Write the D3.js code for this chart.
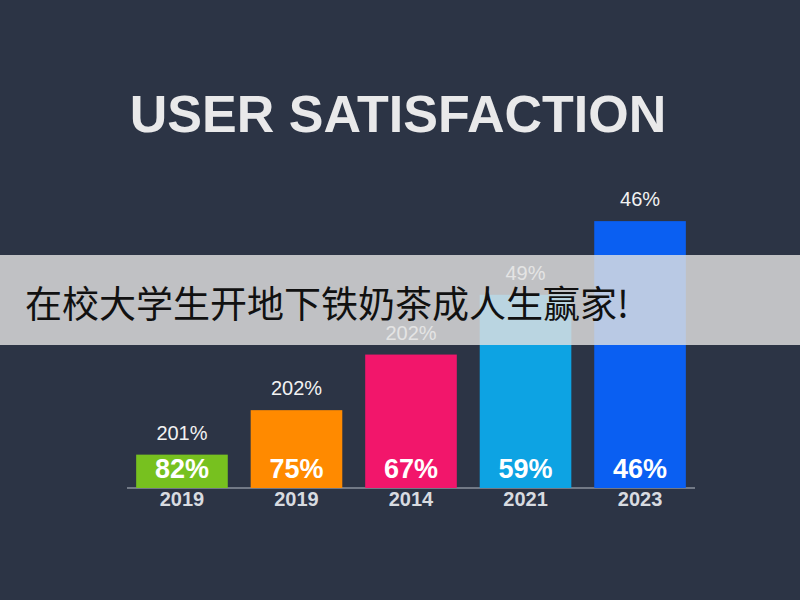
<!DOCTYPE html>
<html><head><meta charset="utf-8">
<script src="https://cdn.jsdelivr.net/npm/d3@7"></script>
<style>body{margin:0;background:#2c3445;}</style>
</head><body>
<svg id="c" width="800" height="600"></svg>
<script>
const categories = ["2019","2019","2014","2021","2023"];
const barHeights = [12, 28, 48, 69.5, 96];
const insideLabels = ["82%","75%","67%","59%","46%"];
const topLabels = ["201%","202%","202%","49%","46%"];
const colors = ["#77c11f","#ff8a00","#f2166b","#0da3e3","#0a5ff2"];

const svg = d3.select("#c");
svg.append("rect").attr("width",800).attr("height",600).attr("fill","#2c3445");
svg.append("text").attr("x",398).attr("y",132).attr("text-anchor","middle")
  .attr("font-family","Liberation Sans, Arial").attr("font-weight","bold").attr("font-size",52)
  .attr("fill","#e9e9ea").text("USER SATISFACTION");

const x = d3.scaleBand().domain(d3.range(categories.length)).range([127,695]).paddingInner(0.2).paddingOuter(0.08);
const y = d3.scaleLinear().domain([0,100]).range([488,210]);

svg.append("line").attr("x1",127).attr("x2",695).attr("y1",488).attr("y2",488).attr("stroke","#8a909c").attr("stroke-width",1.5);

const g = svg.append("g");
g.selectAll("rect").data(barHeights).join("rect")
  .attr("x",(d,i)=>x(i)).attr("width",x.bandwidth())
  .attr("y",d=>y(d)).attr("height",d=>y(0)-y(d)).attr("fill",(d,i)=>colors[i]);
g.selectAll(".in").data(insideLabels).join("text")
  .attr("x",(d,i)=>x(i)+x.bandwidth()/2).attr("y",478).attr("text-anchor","middle")
  .attr("font-family","Liberation Sans, Arial").attr("font-weight","bold").attr("font-size",27)
  .attr("fill","#fff").text(d=>d);
g.selectAll(".top").data(topLabels).join("text")
  .attr("x",(d,i)=>x(i)+x.bandwidth()/2).attr("y",(d,i)=>y(barHeights[i])-15).attr("text-anchor","middle")
  .attr("font-family","Liberation Sans, Arial").attr("font-size",20)
  .attr("fill","#f2f2f2").text(d=>d);
g.selectAll(".yr").data(categories).join("text")
  .attr("x",(d,i)=>x(i)+x.bandwidth()/2).attr("y",506).attr("text-anchor","middle")
  .attr("font-family","Liberation Sans, Arial").attr("font-weight","bold").attr("font-size",20)
  .attr("fill","#d8dbe0").text(d=>d);

svg.append("rect").attr("x",0).attr("y",255).attr("width",800).attr("height",90).attr("fill","rgba(225,225,225,0.82)");
svg.append("text").attr("x",25).attr("y",318)
  .attr("font-family","Noto Sans CJK SC").attr("font-size",37).attr("fill","#111")
  .text("在校大学生开地下铁奶茶成人生赢家!");
</script>
</body></html>
